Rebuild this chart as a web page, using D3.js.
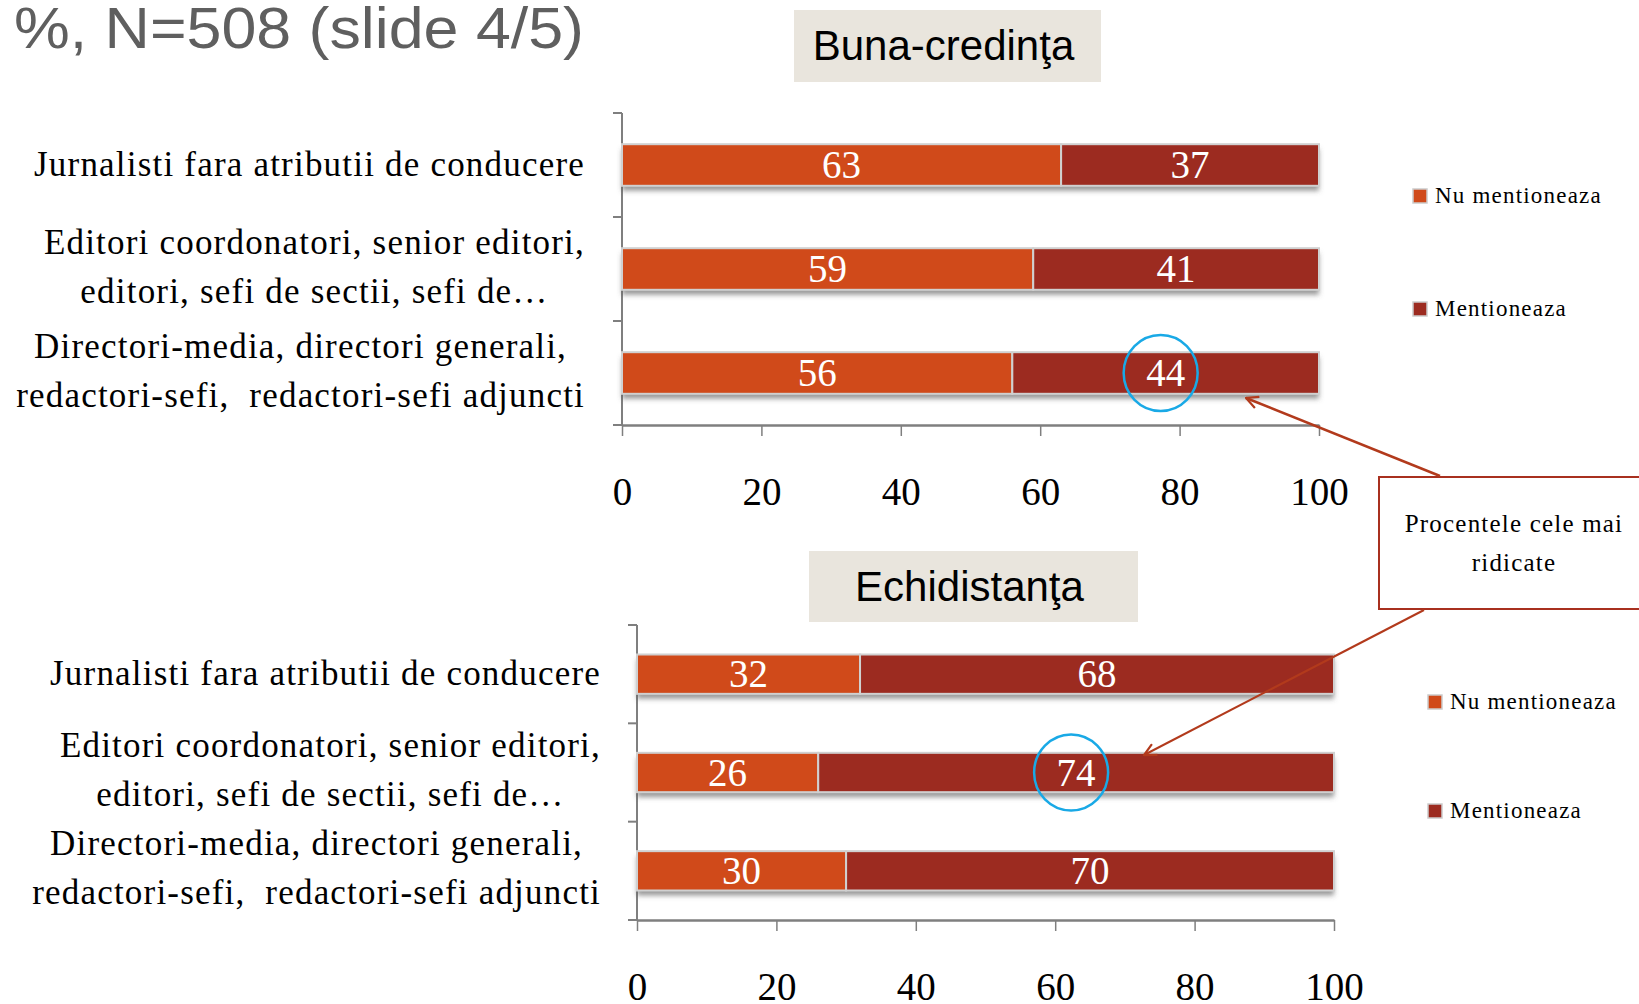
<!DOCTYPE html>
<html>
<head>
<meta charset="utf-8">
<script src="https://cdn.jsdelivr.net/npm/d3@7"></script>
<style>
  html, body { margin: 0; padding: 0; background: #fff; }
  svg { display: block; }
</style>
</head>
<body>
<div id="chart"></div>
<script>
// date
const categoryLines = [
  ["Jurnalisti fara atributii de conducere"],
  ["Editori coordonatori, senior editori,", "editori, sefi de sectii, sefi de…"],
  ["Directori-media, directori generali,", "redactori-sefi,  redactori-sefi adjuncti"]
];
const seriesNames = ["Nu mentioneaza", "Mentioneaza"];
const bunaNu = [63, 59, 56];
const bunaMentioneaza = [37, 41, 44];
const echiNu = [32, 26, 30];
const echiMentioneaza = [68, 74, 70];
const xTicks = [0, 20, 40, 60, 80, 100];
const colors = ["#D04A1A", "#9C2B20"];

const W = 1639, H = 1004;
const serif = "'Liberation Serif', 'DejaVu Serif', serif";

const svg = d3.select("#chart").append("svg")
  .attr("width", W)
  .attr("height", H);

// umbra barelor
const defs = svg.append("defs");
defs.append("filter")
    .attr("id", "shadow")
    .attr("x", "-5%").attr("y", "-20%")
    .attr("width", "110%").attr("height", "160%")
  .append("feDropShadow")
    .attr("dx", 0).attr("dy", 5)
    .attr("stdDeviation", 2.5)
    .attr("flood-color", "#555")
    .attr("flood-opacity", 0.6);

defs.append("marker")
    .attr("id", "arrow")
    .attr("viewBox", "0 0 14 14")
    .attr("refX", 13).attr("refY", 7)
    .attr("markerWidth", 14).attr("markerHeight", 14)
    .attr("markerUnits", "userSpaceOnUse")
    .attr("orient", "auto")
  .append("path")
    .attr("d", "M1,1 L13,7 L1,13")
    .attr("fill", "none")
    .attr("stroke", "#B23A1C")
    .attr("stroke-width", 2.2);

// titlu
svg.append("text")
  .attr("x", 14)
  .attr("y", 48)
  .attr("textLength", 570)
  .attr("lengthAdjust", "spacingAndGlyphs")
  .style("font-family", "'Liberation Sans', Arial, sans-serif")
  .style("font-size", "57px")
  .style("fill", "#5f5f5f")
  .text("%, N=508 (slide 4/5)");

function drawPanel(cfg) {
  const g = svg.append("g");

  // caseta titlu
  g.append("rect")
    .attr("x", cfg.box[0]).attr("y", cfg.box[1])
    .attr("width", cfg.box[2]).attr("height", cfg.box[3])
    .style("fill", "#E9E5DD");
  g.append("text")
    .attr("x", cfg.box[0] + cfg.box[2] / 2 - 4)
    .attr("y", cfg.box[1] + cfg.box[3] / 2 + 14)
    .attr("text-anchor", "middle")
    .style("font-family", "'Liberation Sans', Arial, sans-serif")
    .style("font-size", "42px")
    .style("fill", "#000")
    .text(cfg.title);

  const x = d3.scaleLinear().domain([0, 100]).range([cfg.x0, cfg.x1]);
  const y = d3.scaleBand()
    .domain(d3.range(categoryLines.length))
    .range([cfg.y0, cfg.y1])
    .paddingInner(0.6)
    .paddingOuter(0.3);

  const rows = cfg.nu.map((v, i) => ({ i, nu: v, men: cfg.men[i] }));
  const stack = d3.stack().keys(["nu", "men"])(rows);

  // axa Y
  const step = y.step();
  g.append("line")
    .attr("x1", cfg.x0).attr("x2", cfg.x0)
    .attr("y1", cfg.y0).attr("y2", cfg.y1)
    .style("stroke", "#7f7f7f").style("stroke-width", 2);
  g.selectAll("line.ytick")
    .data(d3.range(categoryLines.length + 1))
    .enter().append("line")
      .attr("class", "ytick")
      .attr("x1", cfg.x0 - 9).attr("x2", cfg.x0)
      .attr("y1", d => cfg.y0 + d * step)
      .attr("y2", d => cfg.y0 + d * step)
      .style("stroke", "#7f7f7f").style("stroke-width", 2);

  // axa X
  const ax = g.append("g")
    .attr("transform", `translate(0,${cfg.y1})`)
    .call(d3.axisBottom(x).tickValues(xTicks).tickSize(11).tickSizeOuter(0).tickPadding(41));
  ax.select(".domain").style("stroke", "#7f7f7f").style("stroke-width", 2.5);
  ax.selectAll(".tick line").style("stroke", "#7f7f7f").style("stroke-width", 1.5);
  ax.selectAll("text")
    .style("font-family", serif)
    .style("font-size", "39px")
    .style("fill", "#000");

  // bare
  g.selectAll("rect.shadow")
    .data(rows)
    .enter().append("rect")
      .attr("class", "shadow")
      .attr("x", x(0))
      .attr("y", d => y(d.i))
      .attr("width", x(100) - x(0))
      .attr("height", y.bandwidth())
      .style("fill", "#ccc")
      .style("filter", "url(#shadow)");

  const layers = g.selectAll("g.layer")
    .data(stack)
    .enter().append("g")
      .attr("class", "layer")
      .style("fill", (d, k) => colors[k]);

  layers.selectAll("rect")
    .data(d => d)
    .enter().append("rect")
      .attr("x", d => x(d[0]))
      .attr("y", d => y(d.data.i))
      .attr("width", d => x(d[1]) - x(d[0]))
      .attr("height", y.bandwidth())
      .style("stroke", "#d0d0d0")
      .style("stroke-width", 2);

  layers.selectAll("text")
    .data(d => d)
    .enter().append("text")
      .attr("x", d => x((d[0] + d[1]) / 2))
      .attr("y", d => y(d.data.i) + y.bandwidth() / 2 + 13)
      .attr("text-anchor", "middle")
      .style("font-family", serif)
      .style("font-size", "39px")
      .style("fill", "#fff")
      .text(d => d[1] - d[0]);

  // etichete categorii: bloc aliniat la dreapta, randuri centrate
  categoryLines.forEach((lines, i) => {
    const t = g.append("text")
      .attr("text-anchor", "middle")
      .style("font-family", serif)
      .style("font-size", "35px")
      .style("letter-spacing", "1.2px")
      .style("white-space", "pre")
      .style("fill", "#000");
    const spans = t.selectAll("tspan")
      .data(lines)
      .enter().append("tspan")
        .attr("y", (d, j) => y(i) + y.bandwidth() / 2 + 11 + (j - (lines.length - 1) / 2) * 49 - (lines.length > 1 ? 2 : 0))
        .text(d => d);
    const maxW = d3.max(spans.nodes(), n => n.getComputedTextLength());
    spans.attr("x", cfg.labelX - maxW / 2);
  });

  // legenda
  seriesNames.forEach((s, k) => {
    const ly = cfg.legendY[k];
    g.append("rect")
      .attr("x", cfg.legendX).attr("y", ly - 7)
      .attr("width", 14).attr("height", 14)
      .style("fill", colors[k])
      .style("stroke", "#ccc").style("stroke-width", 1.5);
    g.append("text")
      .attr("x", cfg.legendX + 22).attr("y", ly + 7)
      .style("font-family", serif)
      .style("font-size", "23px")
      .style("letter-spacing", "1.2px")
      .style("fill", "#000")
      .text(s);
  });

  // cerc de evidentiere
  const h = cfg.highlight;
  const seg = stack[h.k][h.i];
  g.append("ellipse")
    .attr("cx", x((seg[0] + seg[1]) / 2) - 5)
    .attr("cy", y(h.i) + y.bandwidth() / 2)
    .attr("rx", 37).attr("ry", 38)
    .style("fill", "none")
    .style("stroke", "#19A9E6")
    .style("stroke-width", 2.5);

  return { x, y };
}

drawPanel({
  title: "Buna-credinţa",
  box: [794, 10, 307, 72],
  x0: 622, x1: 1319, y0: 113, y1: 425,
  nu: bunaNu, men: bunaMentioneaza,
  labelX: 585,
  legendX: 1413, legendY: [196, 309],
  highlight: { i: 2, k: 1 }
});

drawPanel({
  title: "Echidistanţa",
  box: [809, 551, 329, 71],
  x0: 637, x1: 1334, y0: 625, y1: 920,
  nu: echiNu, men: echiMentioneaza,
  labelX: 601,
  legendX: 1428, legendY: [702, 811],
  highlight: { i: 1, k: 1 }
});

// caseta explicativa
svg.append("rect")
  .attr("x", 1379).attr("y", 477)
  .attr("width", 280).attr("height", 132)
  .style("fill", "#fff")
  .style("stroke", "#A8301F")
  .style("stroke-width", 2);
svg.append("text")
  .attr("x", 1514).attr("y", 532)
  .attr("text-anchor", "middle")
  .style("font-family", serif)
  .style("font-size", "25px")
  .style("letter-spacing", "1.2px")
  .style("fill", "#000")
  .selectAll("tspan")
  .data(["Procentele cele mai", "ridicate"])
  .enter().append("tspan")
    .attr("x", 1514)
    .attr("dy", (d, i) => i ? 39 : 0)
    .text(d => d);

// sageti
svg.append("line")
  .attr("x1", 1440).attr("y1", 476)
  .attr("x2", 1246).attr("y2", 398)
  .attr("marker-end", "url(#arrow)")
  .style("stroke", "#B23A1C").style("stroke-width", 2.5);
svg.append("line")
  .attr("x1", 1424).attr("y1", 610)
  .attr("x2", 1144).attr("y2", 755)
  .attr("marker-end", "url(#arrow)")
  .style("stroke", "#B23A1C").style("stroke-width", 2);
</script>
</body>
</html>
